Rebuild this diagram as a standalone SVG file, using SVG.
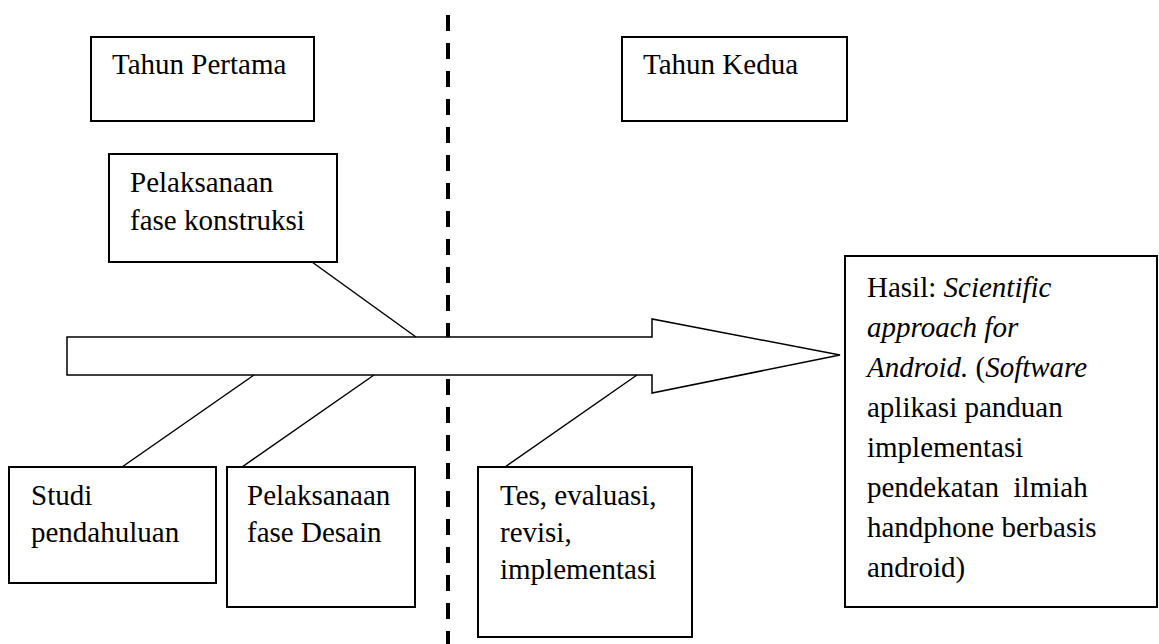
<svg xmlns="http://www.w3.org/2000/svg" width="1159" height="644" viewBox="0 0 1159 644" font-family="Liberation Serif, Times New Roman, serif">
<style>
.box{fill:#fff;stroke:#000;stroke-width:2}
.t{font-family:'Liberation Serif','Times New Roman',serif;font-size:29px;fill:#000;white-space:pre}
.i{font-style:italic}
.ln{stroke:#000;stroke-width:1.5;fill:none}
</style>
<rect width="1159" height="644" fill="#fff"/>
<g id="divider">
<line x1="448" y1="15" x2="448" y2="644" stroke="#000" stroke-width="4" stroke-dasharray="16 12"/>
</g>
<g id="connectors">
<line class="ln" x1="312" y1="262" x2="416" y2="337"/>
<line class="ln" x1="254" y1="375" x2="122" y2="467"/>
<line class="ln" x1="374" y1="375" x2="242" y2="467"/>
<line class="ln" x1="637" y1="375" x2="505" y2="467"/>
</g>
<g id="arrow">
<polygon points="67,337 652,337 652,319 840,355 652,393 652,375 67,375" fill="#fff" stroke="#000" stroke-width="1.5"/>
</g>
<g id="tahun-pertama">
<rect class="box" x="91" y="37" width="223" height="84"/>
<text class="t" x="112" y="74" font-family="Liberation Serif">Tahun Pertama</text>
</g>
<g id="tahun-kedua">
<rect class="box" x="622" y="37" width="225" height="84"/>
<text class="t" x="643" y="74" font-family="Liberation Serif">Tahun Kedua</text>
</g>
<g id="konstruksi">
<rect class="box" x="109" y="154" width="228" height="108"/>
<text class="t" x="130" y="192" font-family="Liberation Serif">Pelaksanaan</text>
<text class="t" x="130" y="230" font-family="Liberation Serif">fase konstruksi</text>
</g>
<g id="studi">
<rect class="box" x="9" y="467" width="207" height="116"/>
<text class="t" x="31" y="505" font-family="Liberation Serif">Studi</text>
<text class="t" x="31" y="542" font-family="Liberation Serif">pendahuluan</text>
</g>
<g id="desain">
<rect class="box" x="227" y="467" width="188" height="140"/>
<text class="t" x="247" y="505" font-family="Liberation Serif">Pelaksanaan</text>
<text class="t" x="247" y="542" font-family="Liberation Serif">fase Desain</text>
</g>
<g id="tes">
<rect class="box" x="478" y="467" width="214" height="170"/>
<text class="t" x="500" y="505" font-family="Liberation Serif">Tes, evaluasi,</text>
<text class="t" x="500" y="542" font-family="Liberation Serif">revisi,</text>
<text class="t" x="500" y="579" font-family="Liberation Serif">implementasi</text>
</g>
<g id="hasil">
<rect class="box" x="845" y="256" width="312" height="351"/>
<text class="t" x="867" y="297" font-family="Liberation Serif">Hasil: <tspan class="i">Scientific</tspan></text>
<text class="t i" x="867" y="337" font-family="Liberation Serif">approach for</text>
<text class="t" x="867" y="377" font-family="Liberation Serif"><tspan class="i">Android.</tspan> (<tspan class="i">Software</tspan></text>
<text class="t" x="867" y="417" font-family="Liberation Serif">aplikasi panduan</text>
<text class="t" x="867" y="457" font-family="Liberation Serif">implementasi</text>
<text class="t" x="867" y="497" font-family="Liberation Serif">pendekatan  ilmiah</text>
<text class="t" x="867" y="537" font-family="Liberation Serif">handphone berbasis</text>
<text class="t" x="867" y="577" font-family="Liberation Serif">android)</text>
</g>
</svg>
